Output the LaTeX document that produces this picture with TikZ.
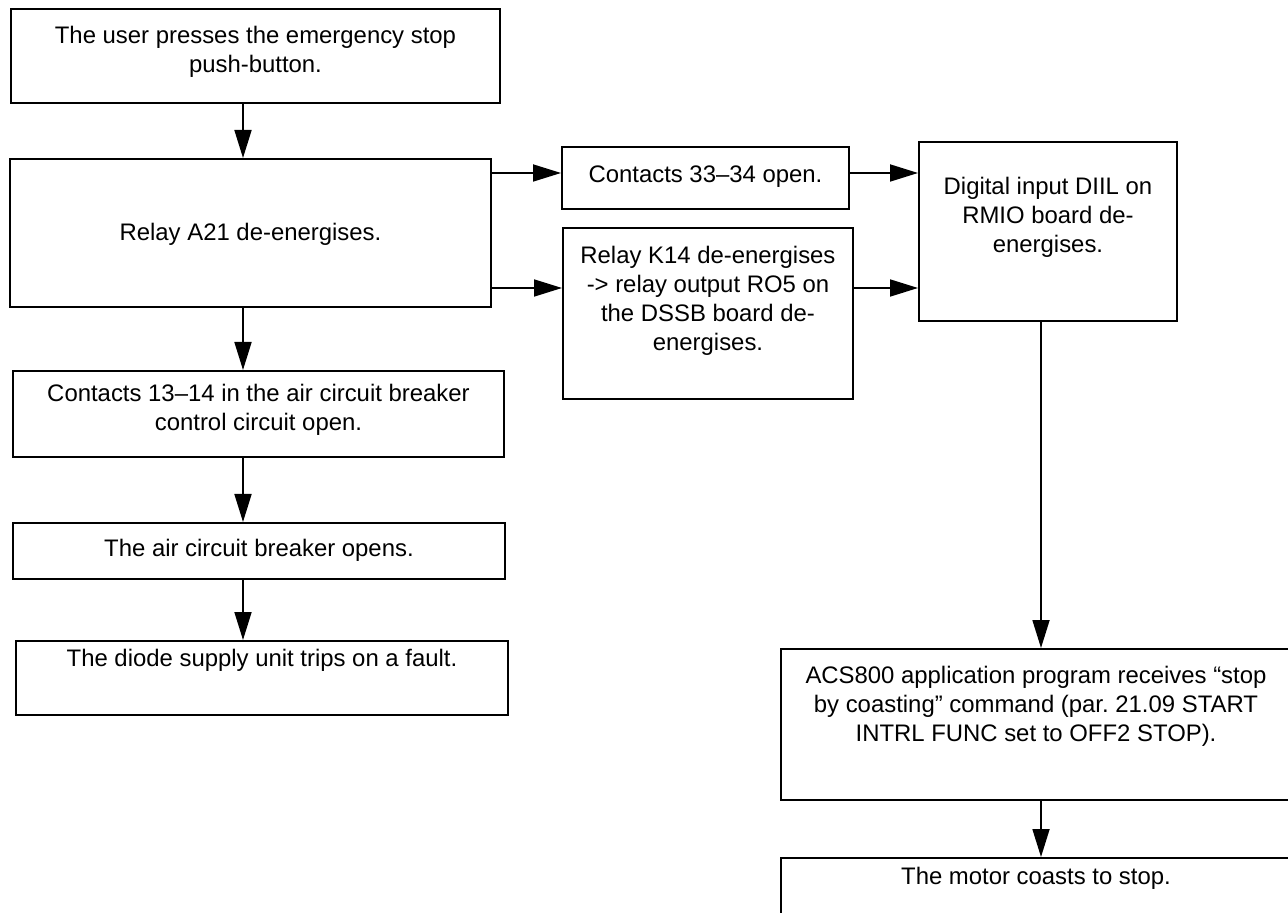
\documentclass[tikz,border=0pt]{standalone}
\usepackage{fontspec}
\setmainfont{Liberation Sans}
\usetikzlibrary{arrows.meta,positioning}
\frenchspacing

\begin{document}
\begin{tikzpicture}[
  box/.style = {draw, line width=1.1pt, rectangle, inner sep=0pt, anchor=north west},
  txt/.style = {inner sep=0pt, align=center, font=\fontsize{13.6}{16.5}\selectfont},
  arr/.style = {line width=1pt, -{Triangle[length=0.56cm, width=0.34cm]}}
]
\useasboundingbox (0, 0) rectangle (25.76, 18.24);
%\draw [very thin, color = gray](0, 0) grid (25, 18);
\node [box, minimum width=9.78cm, minimum height=1.88cm] (top) at (0.20, 18.08) {};
\node [txt, below=0.35cm of top.north] (topT) {The user presses the emergency stop\\push-button.};
\node [box, minimum width=9.62cm, minimum height=2.96cm] (a21) at (0.18, 15.08) {};
\node [txt, below=1.29cm of a21.north] (a21T) {Relay A21 de-energises.};
\node [box, minimum width=9.82cm, minimum height=1.72cm] (c13) at (0.24, 10.84) {};
\node [txt, below=0.27cm of c13.north] (c13T) {Contacts 13–14 in the air circuit breaker\\control circuit open.};
\node [box, minimum width=9.84cm, minimum height=1.12cm] (air) at (0.24, 7.80) {};
\node [txt, below=0.33cm of air.north] (airT) {The air circuit breaker opens.};
\node [box, minimum width=9.84cm, minimum height=1.48cm] (diode) at (0.30, 5.44) {};
\node [txt, below=0.18cm of diode.north] (diodeT) {The diode supply unit trips on a fault.};
\node [box, minimum width=5.74cm, minimum height=1.24cm] (c33) at (11.22, 15.32) {};
\node [txt, below=0.39cm of c33.north] (c33T) {Contacts 33–34 open.};
\node [box, minimum width=5.80cm, minimum height=3.42cm] (k14) at (11.24, 13.70) {};
\node [txt, below=0.37cm of k14.north] (k14T) {Relay K14 de-energises\\-> relay output RO5 on\\the DSSB board de-\\energises.};
\node [box, minimum width=5.16cm, minimum height=3.58cm] (di) at (18.36, 15.42) {};
\node [txt, below=0.71cm of di.north] (diT) {Digital input DIIL on\\RMIO board de-\\energises.};
\node [box, minimum width=10.20cm, minimum height=3.02cm] (acs) at (15.60, 5.28) {};
\node [txt, below=0.36cm of acs.north] (acsT) {ACS800 application program receives “stop\\by coasting” command (par. 21.09 START\\INTRL FUNC set to OFF2 STOP).};
\node [box, minimum width=10.20cm, minimum height=1.46cm] (motor) at (15.60, 1.10) {};
\node [txt, below=0.20cm of motor.north] (motorT) {The motor coasts to stop.};
% arrow lines
\coordinate (lcol) at (4.86, 0);
\coordinate (rcol) at (20.82, 0);
\coordinate (hi) at (0, 14.78);
\coordinate (lo) at (0, 12.48);
\draw [arr] (top.south -| lcol) -- (a21.north -| lcol);
\draw [arr] (a21.south -| lcol) -- (c13.north -| lcol);
\draw [arr] (c13.south -| lcol) -- (air.north -| lcol);
\draw [arr] (air.south -| lcol) -- (diode.north -| lcol);
\draw [arr] (a21.east |- hi) -- (c33.west |- hi);
\draw [arr] (a21.east |- lo) -- (k14.west |- lo);
\draw [arr] (c33.east |- hi) -- (di.west |- hi);
\draw [arr] (k14.east |- lo) -- (di.west |- lo);
\draw [arr] (di.south -| rcol) -- (acs.north -| rcol);
\draw [arr] (acs.south -| rcol) -- (motor.north -| rcol);
\end{tikzpicture}
\end{document}
